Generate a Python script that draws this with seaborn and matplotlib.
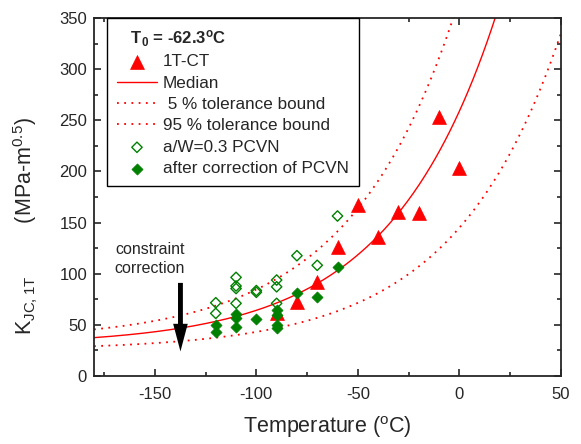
import numpy as np
import pandas as pd
import matplotlib
matplotlib.use("Agg")
import matplotlib.pyplot as plt
import seaborn as sns
from matplotlib.ticker import MultipleLocator

# ---------------- data ----------------
T0 = -62.3
ct_temp = [-90, -80, -70, -60, -50, -40, -30, -20, -10, 0]
ct_k = [61.9, 72.6, 92.2, 125.8, 167.2, 135.6, 160.6, 159.6, 253.5, 203.0]

pcvn_temp = [-120, -120, -110, -110, -110, -110, -100, -100, -90, -90, -90, -80, -70, -60]
pcvn_k = [71.6, 61.2, 96.4, 88.0, 85.5, 71.0, 81.8, 83.5, 93.8, 87.2, 71.0, 117.6, 108.2, 156.4]

corr_temp = [-120, -120, -110, -110, -110, -100, -90, -90, -90, -90, -80, -70, -60]
corr_k = [49.9, 43.4, 60.6, 56.4, 48.2, 55.4, 64.5, 59.6, 49.9, 46.6, 80.8, 77.4, 106.2]

# master-curve model parameters (ASTM E1921 form, with T0 above)
median_a, median_b = 30.0, 70.0
low_a, low_b = 25.2, 36.6
high_a, high_b = 34.6, 102.2
mc_c = 0.019

curve_t = np.linspace(-180, 50, 400)
curves = pd.DataFrame({
    "T": curve_t,
    "median": median_a + median_b * np.exp(mc_c * (curve_t - T0)),
    "low": low_a + low_b * np.exp(mc_c * (curve_t - T0)),
    "high": high_a + high_b * np.exp(mc_c * (curve_t - T0)),
})

# constraint-correction arrow (start / end value)
arrow_t = -137.4
arrow_from, arrow_to = 91.0, 24.0

# ---------------- style ----------------
sns.set_style("ticks")
plt.rcParams["font.family"] = ["Liberation Sans", "DejaVu Sans"]
plt.rcParams["mathtext.default"] = "regular"
plt.rcParams["axes.unicode_minus"] = False

RED = "#ff0000"
GREEN = "#008000"

fig = plt.figure(figsize=(5.81, 4.44), dpi=100)
ax = fig.add_axes([0.1618, 0.1532, 0.8033, 0.8063])

sns.lineplot(data=curves, x="T", y="median", color=RED, lw=1.0, ax=ax, label="Median")
sns.lineplot(data=curves, x="T", y="low", color=RED, lw=1.3, ls=(0, (1, 3)), ax=ax,
             label=" 5 % tolerance bound")
sns.lineplot(data=curves, x="T", y="high", color=RED, lw=1.3, ls=(0, (1, 3)), ax=ax,
             label="95 % tolerance bound")

sns.scatterplot(x=ct_temp, y=ct_k, marker="^", s=100, color=RED, edgecolor=RED,
                linewidth=0.5, ax=ax, label="1T-CT", zorder=3)
sns.scatterplot(x=pcvn_temp, y=pcvn_k, marker="D", s=28, facecolors="none",
                edgecolor=GREEN, linewidth=1.0, ax=ax, label="a/W=0.3 PCVN", zorder=4)
sns.scatterplot(x=corr_temp, y=corr_k, marker="D", s=32, color=GREEN, edgecolor=GREEN,
                linewidth=0.5, ax=ax, label="after correction of PCVN", zorder=5)

ax.arrow(arrow_t, arrow_from, 0, arrow_to - arrow_from, width=2.4, head_width=7.2,
         head_length=27, length_includes_head=True, color="black", lw=0, zorder=6)
ax.text(-152.5, 114, "constraint\ncorrection", ha="center", va="center",
        fontsize=11.5, linespacing=1.35)

ax.set_xlim(-180, 50)
ax.set_ylim(0, 350)
ax.xaxis.set_major_locator(MultipleLocator(50))
ax.xaxis.set_minor_locator(MultipleLocator(25))
ax.yaxis.set_major_locator(MultipleLocator(50))
ax.yaxis.set_minor_locator(MultipleLocator(25))
ax.tick_params(which="both", direction="in", top=True, right=True, width=1.2)
ax.tick_params(which="major", length=5, labelsize=12)
ax.tick_params(which="minor", length=3)
ax.tick_params(axis="x", which="major", pad=8)
ax.tick_params(axis="y", which="major", pad=5)
for sp in ax.spines.values():
    sp.set_linewidth(1.3)
    sp.set_visible(True)

ax.set_xlabel("Temperature ($^o$C)", fontsize=15.5, labelpad=9)
ax.set_ylabel("K$_{JC,1T}$         (MPa-m$^{0.5}$)", fontsize=15.5)
ax.yaxis.set_label_coords(-0.115, 0.42)

handles, labels = ax.get_legend_handles_labels()
order = ["1T-CT", "Median", " 5 % tolerance bound", "95 % tolerance bound",
         "a/W=0.3 PCVN", "after correction of PCVN"]
hmap = dict(zip(labels, handles))
leg = ax.legend([hmap[k] for k in order], order, loc="upper left",
                bbox_to_anchor=(0.028, 1.0), borderaxespad=0, fontsize=12.3,
                frameon=True, fancybox=False, edgecolor="black", framealpha=1,
                title="   T$_0$ = -62.3$^o$C",
                title_fontproperties={"weight": "bold", "size": 12},
                alignment="left", handlelength=2.3, labelspacing=0.37,
                borderpad=0.6, handletextpad=0.35)
leg.get_frame().set_linewidth(1.0)
leg._legend_box.sep = 4

fig.savefig("out.png", dpi=100)
